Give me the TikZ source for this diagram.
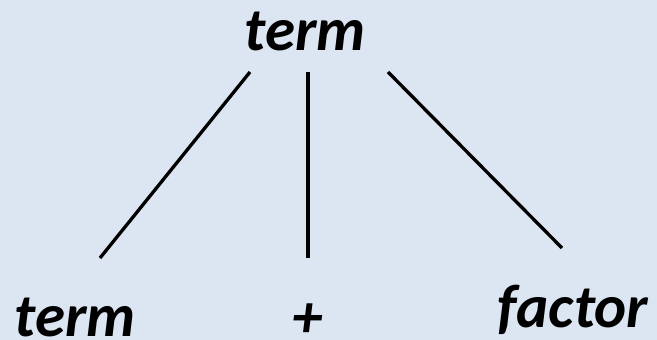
\documentclass[tikz,border=0pt]{standalone}
\usepackage{fontspec}
\setmainfont{Carlito}
\definecolor{bg}{HTML}{DCE6F2}
\begin{document}
\begin{tikzpicture}[x=1pt,y=-1pt,
  lbl/.style={font=\fontsize{61}{63}\selectfont\bfseries\itshape, inner sep=0pt, anchor=base, text depth=0pt},
  edge/.style={line width=3.3pt, black}]
\fill[bg] (0,0) rectangle (657,340);
\useasboundingbox (0,0) rectangle (657,340);
\node[lbl] (top) at (305,50) {term};
\node[lbl] (lt) at (75,336) {term};
\node[lbl] (pl) at (308,337) {+};
\node[lbl] (fa) at (573,327) {factor};
\coordinate (a1) at (250,72);
\coordinate (a2) at (100,258);
\coordinate (b1) at (308,72);
\coordinate (b2) at (308,258);
\coordinate (c1) at (388,72);
\coordinate (c2) at (562,248);
\draw[edge] (a1) -- (a2);
\draw[edge] (b1) -- (b2);
\draw[edge] (c1) -- (c2);
\end{tikzpicture}
\end{document}
